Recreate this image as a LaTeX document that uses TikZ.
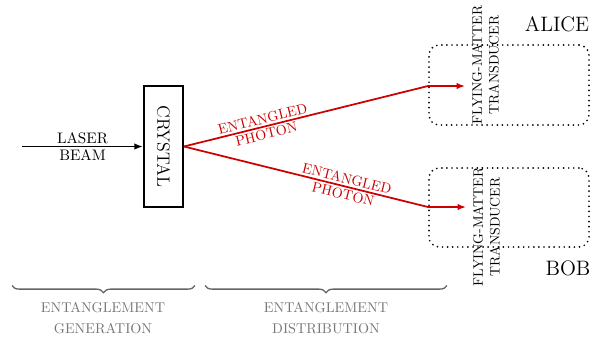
\documentclass[tikz,border=0pt]{standalone}
\usetikzlibrary{arrows.meta,decorations.pathreplacing,fit}
\definecolor{redc}{RGB}{204,0,0}
\definecolor{grayc}{RGB}{118,118,118}
\definecolor{bracec}{RGB}{100,100,100}
\begin{document}
\begin{tikzpicture}[x=0.6897pt,y=-0.6897pt,
  blackline/.style={line width=1.3pt, draw=black},
  redline/.style={line width=1.2pt, draw=redc},
  tipend/.style={-{Latex[length=6pt,width=4.5pt]}},
  redlabel/.style={text=redc, align=center, font=\fontsize{9.8}{10.8}\selectfont, inner sep=0pt},
  boxstyle/.style={draw, line width=1.3pt, minimum width=26.9pt, minimum height=83.5pt, inner sep=0pt, font=\fontsize{12.3}{14}\selectfont},
  dotbox/.style={draw, line width=1.3pt, line cap=round, dash pattern=on 0pt off 3.5pt, rounded corners=7pt, inner sep=0pt},
  transd/.style={font=\fontsize{9.5}{11.5}\selectfont, inner sep=3.33pt},
  laserlabel/.style={align=center, inner sep=0pt, font=\fontsize{10.5}{12.2}\selectfont},
  partyname/.style={font=\Large},
  bracestyle/.style={draw=bracec, line width=0.9pt, decorate, decoration={brace, mirror, amplitude=5pt}},
  phase/.style={text=grayc, align=center, font=\fontsize{9.8}{14}\selectfont}
]
\useasboundingbox (0,0) rectangle (592,341);

% crystal
\node[boxstyle] (crystal) at (163.5,146.5) {\rotatebox{-90}{CRYSTAL}};

% laser beam
\coordinate (laserstart) at (22,146.5);
\draw[blackline, tipend] (laserstart) -- node[midway, laserlabel] (laserlbl) {LASER\\BEAM} (crystal.west);

% Alice and Bob boxes
\node[dotbox, fit={(429,45) (589,125)}] (boxA) {};
\node[dotbox, fit={(429,168) (589,247)}] (boxB) {};

% transducers
\node[transd] (transA) at (487,65) {\rotatebox{90}{\begin{tabular}{@{}c@{}}FLYING-MATTER\\TRANSDUCER\end{tabular}}};
\node[transd] (transB) at (488,227) {\rotatebox{90}{\begin{tabular}{@{}c@{}}FLYING-MATTER\\TRANSDUCER\end{tabular}}};

% names
\node[partyname] (alice) at (557,24) {ALICE};
\node[partyname] (bob) at (568,268) {BOB};

% photons
\coordinate (bendA) at (428,86);
\coordinate (bendB) at (428,207);
\draw[redline, tipend] (crystal.east) -- node[pos=0.33, sloped, redlabel] (photA) {ENTANGLED\\PHOTON} (bendA) -- (bendA -| transA.west);
\draw[redline, tipend] (crystal.east) -- node[pos=0.66, sloped, redlabel] (photB) {ENTANGLED\\PHOTON} (bendB) -- (bendB -| transB.west);

% braces
\coordinate (brA1) at (12,285.5);
\coordinate (brA2) at (195,285.5);
\coordinate (brB1) at (205,285.5);
\coordinate (brB2) at (447,285.5);
\draw[bracestyle] (brA1) -- (brA2);
\draw[bracestyle] (brB1) -- (brB2);
\node[phase] (gen) at (103,318) {ENTANGLEMENT\\GENERATION};
\node[phase] (dist) at (326,318) {ENTANGLEMENT\\DISTRIBUTION};
\end{tikzpicture}
\end{document}
